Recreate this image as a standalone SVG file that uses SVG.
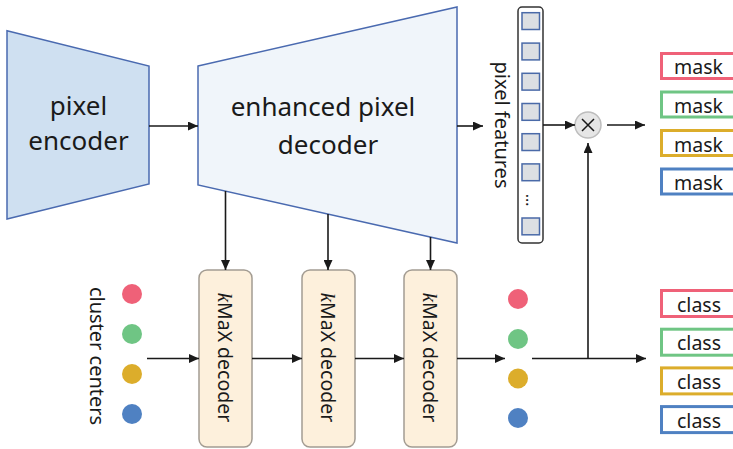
<svg xmlns="http://www.w3.org/2000/svg" width="733" height="449" viewBox="0 0 733 449">
<style>
  text { font-family: "Noto Sans", "Open Sans", sans-serif; fill: #1a1a1a; }
  .big { font-size: 26px; text-anchor: middle; }
  .lbl { font-size: 19.5px; }
  .kmax { font-size: 19.5px; text-anchor: middle; }
  .mk { font-family: "Liberation Serif", serif; font-style: italic; font-size: 21px; }
  .conn { stroke: #1a1a1a; stroke-width: 1.6; fill: none; }
  .arr { marker-end: url(#ah); }
  .sq { fill: #dcdfe3; stroke: #4a6aa8; stroke-width: 1.5; }
  .kbox { fill: #fdf0dc; stroke: #a39c92; stroke-width: 1.5; }
  .out { fill: #fff; stroke-width: 3; }
  .red { fill: #ef6178; } .green { fill: #6fc584; } .yellow { fill: #dcad2b; } .blue { fill: #4f81c2; }
  .sred { stroke: #ef6178; } .sgreen { stroke: #6fc584; } .syellow { stroke: #dcad2b; } .sblue { stroke: #4f81c2; }
</style>
<defs>
  <marker id="ah" markerUnits="userSpaceOnUse" markerWidth="10" markerHeight="9" refX="10" refY="4.5" orient="auto">
    <path d="M0,0 L10,4.5 L0,9 z" fill="#1a1a1a"/>
  </marker>
</defs>

<g id="pixel-encoder">
  <polygon points="7,30.7 149,66 149,184 7,219" fill="#cfe0f1" stroke="#4a6ab0" stroke-width="1.5"/>
  <text class="big" x="78.5" y="115">pixel</text>
  <text class="big" x="78.5" y="150">encoder</text>
</g>

<g id="enhanced-pixel-decoder">
  <polygon points="198,66 457,7 457,243 198,185" fill="#f0f5fa" stroke="#4a6ab0" stroke-width="1.5"/>
  <text class="big" x="323" y="116">enhanced pixel</text>
  <text class="big" x="328" y="154">decoder</text>
</g>

<g id="pixel-features">
  <rect x="518" y="7" width="25" height="236" rx="4" fill="#fff" stroke="#333" stroke-width="1.5"/>
  <rect class="sq" x="522" y="12.7" width="17.5" height="16.8"/>
  <rect class="sq" x="522" y="43.1" width="17.5" height="16.8"/>
  <rect class="sq" x="522" y="73.3" width="17.5" height="16.8"/>
  <rect class="sq" x="522" y="103.5" width="17.5" height="16.8"/>
  <rect class="sq" x="522" y="133.7" width="17.5" height="16.8"/>
  <rect class="sq" x="522" y="163.9" width="17.5" height="16.8"/>
  <rect class="sq" x="522" y="218" width="17.5" height="16.8"/>
  <text class="lbl" transform="translate(526,200) rotate(90)" text-anchor="middle" style="font-size:16px">…</text>
  <text class="lbl" transform="translate(495,125) rotate(90)" text-anchor="middle" style="font-size:20px">pixel features</text>
</g>

<g id="multiply">
  <circle cx="588" cy="125" r="13" fill="#e6e6e6" stroke="#bdbdbd" stroke-width="1.5"/>
  <path d="M582,119 L594,131 M594,119 L582,131" stroke="#1a1a1a" stroke-width="1.5"/>
</g>

<g id="cluster-centers">
  <text class="lbl" transform="translate(90,356) rotate(90)" text-anchor="middle" style="font-size:20px">cluster centers</text>
  <circle class="red" cx="132" cy="294" r="10"/>
  <circle class="green" cx="132" cy="334" r="10"/>
  <circle class="yellow" cx="132" cy="374" r="10"/>
  <circle class="blue" cx="132" cy="414" r="10"/>
</g>

<g id="kmax-decoder-1">
  <rect class="kbox" x="199" y="270" width="53" height="177" rx="8"/>
  <text class="kmax" transform="translate(218,357.5) rotate(90)"><tspan class="mk">k</tspan>MaX decoder</text>
</g>
<g id="kmax-decoder-2">
  <rect class="kbox" x="302" y="270" width="53" height="177" rx="8"/>
  <text class="kmax" transform="translate(321,357.5) rotate(90)"><tspan class="mk">k</tspan>MaX decoder</text>
</g>
<g id="kmax-decoder-3">
  <rect class="kbox" x="404" y="270" width="53" height="177" rx="8"/>
  <text class="kmax" transform="translate(423,357.5) rotate(90)"><tspan class="mk">k</tspan>MaX decoder</text>
</g>

<g id="output-centers">
  <circle class="red" cx="518" cy="299" r="10"/>
  <circle class="green" cx="518" cy="339" r="10"/>
  <circle class="yellow" cx="518" cy="378.5" r="10"/>
  <circle class="blue" cx="518" cy="418" r="10"/>
</g>

<g id="masks">
  <rect class="out sred" x="661.5" y="53.5" width="90" height="25"/>
  <rect class="out sgreen" x="661.5" y="92" width="90" height="25"/>
  <rect class="out syellow" x="661.5" y="130.5" width="90" height="25"/>
  <rect class="out sblue" x="661.5" y="169" width="90" height="25"/>
  <text class="lbl" x="674" y="74.3">mask</text>
  <text class="lbl" x="674" y="113">mask</text>
  <text class="lbl" x="674" y="151.5">mask</text>
  <text class="lbl" x="674" y="190">mask</text>
</g>

<g id="classes">
  <rect class="out sred" x="661.5" y="290.5" width="90" height="26"/>
  <rect class="out sgreen" x="661.5" y="329.2" width="90" height="26"/>
  <rect class="out syellow" x="661.5" y="367.9" width="90" height="26"/>
  <rect class="out sblue" x="661.5" y="406.6" width="90" height="26"/>
  <text class="lbl" x="677" y="311.7">class</text>
  <text class="lbl" x="677" y="350.4">class</text>
  <text class="lbl" x="677" y="389.1">class</text>
  <text class="lbl" x="677" y="427.8">class</text>
</g>

<g id="connectors">
  <line class="conn arr" x1="149" y1="126" x2="198" y2="126"/>
  <line class="conn arr" x1="457" y1="126" x2="483" y2="126"/>
  <line class="conn arr" x1="543" y1="125" x2="575" y2="125"/>
  <line class="conn arr" x1="607" y1="125" x2="645" y2="125"/>
  <line class="conn arr" x1="225.5" y1="191" x2="225.5" y2="270"/>
  <line class="conn arr" x1="328" y1="214" x2="328" y2="270"/>
  <line class="conn arr" x1="430.5" y1="237" x2="430.5" y2="270"/>
  <line class="conn arr" x1="147" y1="358.5" x2="199" y2="358.5"/>
  <line class="conn arr" x1="252" y1="358.5" x2="302" y2="358.5"/>
  <line class="conn arr" x1="355" y1="358.5" x2="404" y2="358.5"/>
  <line class="conn arr" x1="457" y1="358.5" x2="505" y2="358.5"/>
  <line class="conn arr" x1="532" y1="358.5" x2="646" y2="358.5"/>
  <line class="conn arr" x1="588" y1="358.5" x2="588" y2="143"/>
</g>
</svg>
